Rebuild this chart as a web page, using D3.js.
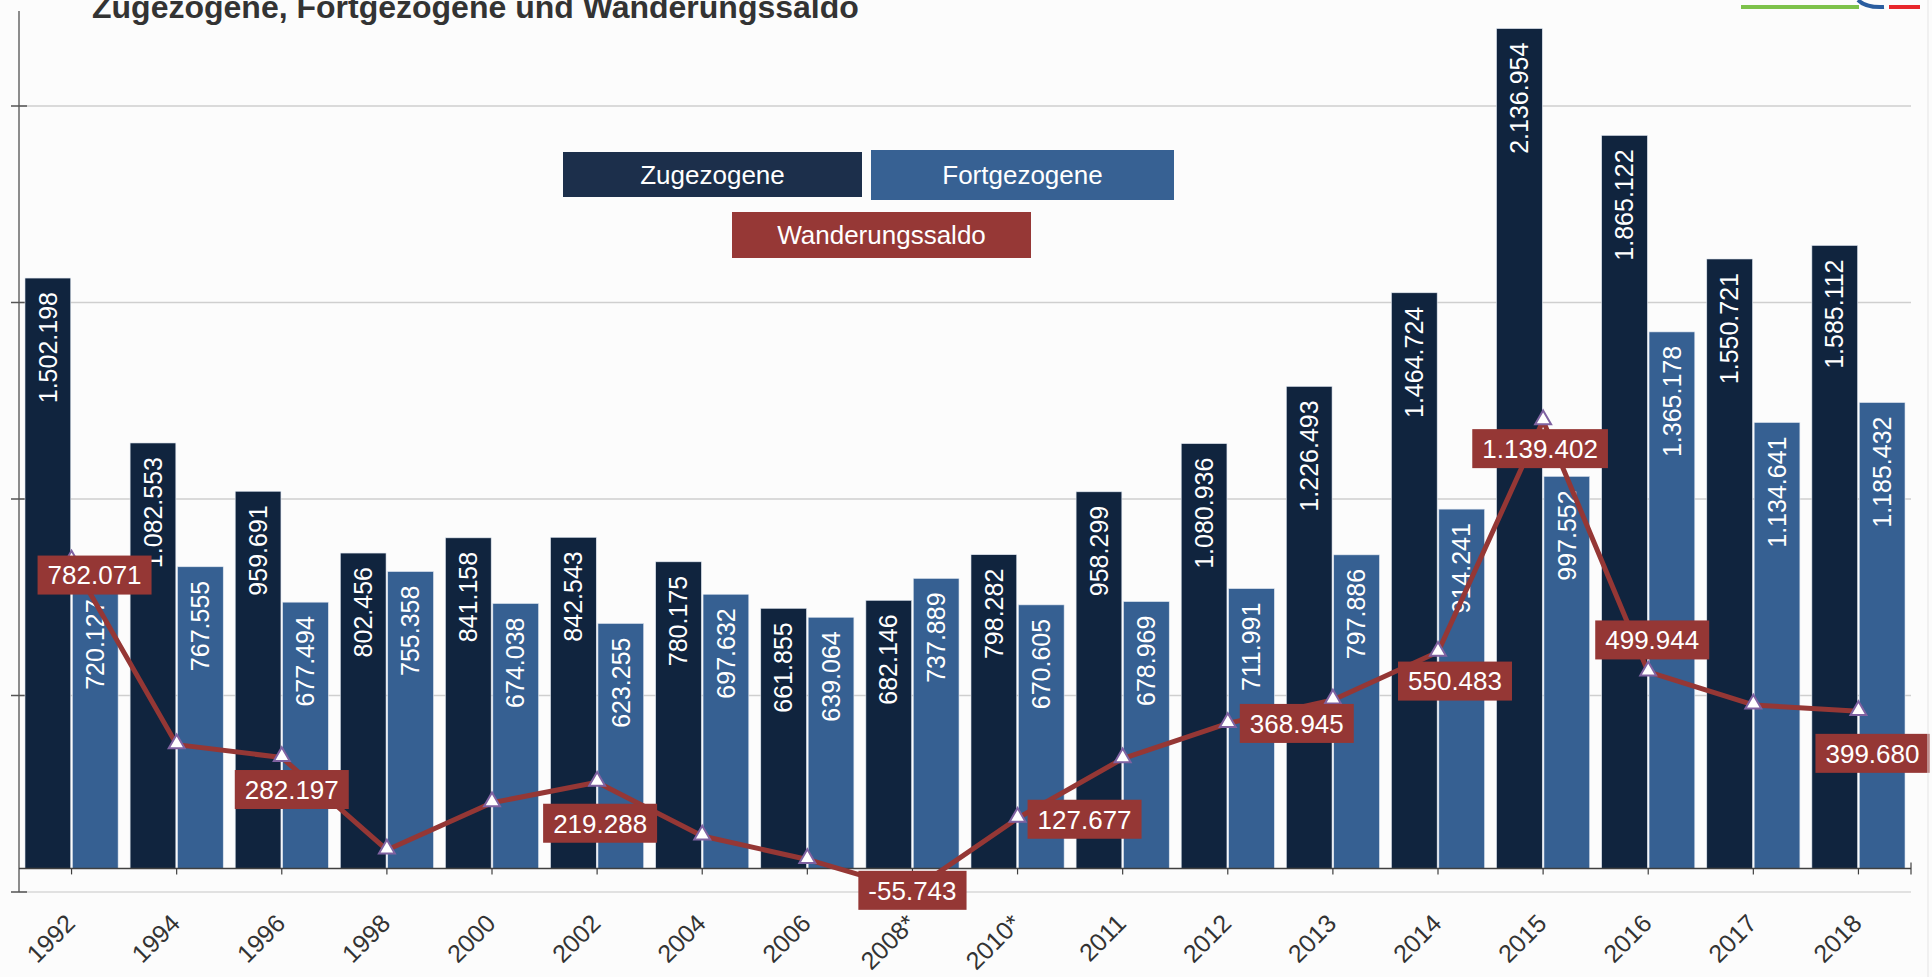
<!DOCTYPE html>
<html>
<head>
<meta charset="utf-8">
<script src="https://cdn.jsdelivr.net/npm/d3@7"></script>
<style>
  body { margin: 0; background: #fcfcfc; }
  svg { display: block; font-family: "Liberation Sans", Arial, sans-serif; }
</style>
</head>
<body>
<div id="chart"></div>
<script>
const years = ["1992", "1994", "1996", "1998", "2000", "2002", "2004", "2006", "2008*", "2010*",
               "2011", "2012", "2013", "2014", "2015", "2016", "2017", "2018"];
const zugezogene = [1502198, 1082553, 959691, 802456, 841158, 842543, 780175, 661855, 682146, 798282,
                    958299, 1080936, 1226493, 1464724, 2136954, 1865122, 1550721, 1585112];
const fortgezogene = [720127, 767555, 677494, 755358, 674038, 623255, 697632, 639064, 737889, 670605,
                      678969, 711991, 797886, 914241, 997552, 1365178, 1134641, 1185432];
const saldo = [782071, 314998, 282197, 47098, 167120, 219288, 82543, 22791, -55743, 127677,
               279330, 368945, 428607, 550483, 1139402, 499944, 416080, 399680];
// which saldo points carry a label
const saldoLabelled = ["1992", "1996", "2002", "2008*", "2010*", "2012", "2014", "2015", "2016", "2018"];
const gridTicks = [-60000, 440000, 940000, 1440000, 1940000];

// label placement (px offset of the label box from its point)
const labelOffset = {
  "1992": [23, 14], "1996": [10, 32], "2002": [3, 41], "2008*": [0, 0], "2010*": [67, 1],
  "2012": [69, 0], "2014": [17, 29], "2015": [-3, 28], "2016": [4, -32], "2018": [14, 42]
};

const W = 1932, H = 977;
const fmt = v => d3.format(",")(v).replace(/,/g, ".").replace("\u2212", "-");

const svg = d3.select("#chart").append("svg").attr("width", W).attr("height", H);

const x = d3.scaleBand().domain(years).range([19, 1911]).paddingInner(0.114).paddingOuter(0.057);
const xs = d3.scaleBand().domain(["zu", "fort"]).range([0, x.bandwidth()]).paddingInner(0.035);
const y = d3.scaleLinear().domain([-60000, 1940000]).range([892, 106]);
const cx = d => x(d) + x.bandwidth() / 2;

// gridlines
svg.append("g").selectAll("line").data(gridTicks).enter().append("line")
  .attr("x1", 19).attr("x2", 1911)
  .attr("y1", d => y(d)).attr("y2", d => y(d))
  .attr("stroke", (d, i) => i === 0 ? "#d9d9d9" : "#cfcfcf").attr("stroke-width", 1.5);

// left axis
svg.append("line").attr("x1", 19).attr("x2", 19).attr("y1", 11).attr("y2", y(-60000))
  .attr("stroke", "#8c8c8c").attr("stroke-width", 2);
svg.append("g").selectAll("line").data(gridTicks).enter().append("line")
  .attr("x1", 11).attr("x2", 27).attr("y1", d => y(d)).attr("y2", d => y(d))
  .attr("stroke", "#555").attr("stroke-width", 1.5);

// bars
const rows = years.map((yr, i) => ({yr, zu: zugezogene[i], fort: fortgezogene[i], saldo: saldo[i]}));
const colors = {zu: "#10243e", fort: "#366092"};
const bars = [];
rows.forEach(r => { bars.push({yr: r.yr, k: "zu", v: r.zu}); bars.push({yr: r.yr, k: "fort", v: r.fort}); });

svg.append("g").selectAll("rect").data(bars).enter().append("rect")
  .attr("x", d => x(d.yr) + xs(d.k))
  .attr("y", d => y(d.v))
  .attr("width", xs.bandwidth())
  .attr("height", d => y(0) - y(d.v))
  .attr("fill", d => colors[d.k])
  .attr("stroke", "#dfe6f0").attr("stroke-width", 0.6);

svg.append("g").selectAll("text").data(bars).enter().append("text")
  .attr("transform", d => `translate(${x(d.yr) + xs(d.k) + xs.bandwidth() / 2},${y(d.v) + 14}) rotate(-90)`)
  .attr("text-anchor", "end").attr("dy", "0.35em")
  .attr("fill", "#fff").style("font-size", "25px")
  .text(d => fmt(d.v));

// x axis
svg.append("line").attr("x1", 19).attr("x2", 1911).attr("y1", y(0)).attr("y2", y(0))
  .attr("stroke", "#404040").attr("stroke-width", 1.5);
svg.append("g").selectAll("line").data(years).enter().append("line")
  .attr("x1", d => cx(d)).attr("x2", d => cx(d)).attr("y1", y(0)).attr("y2", y(0) + 6)
  .attr("stroke", "#404040").attr("stroke-width", 1.2);
svg.append("line").attr("x1", 1911).attr("x2", 1911).attr("y1", y(0) - 6).attr("y2", y(0) + 6)
  .attr("stroke", "#404040").attr("stroke-width", 1.2);

svg.append("g").selectAll("text").data(years).enter().append("text")
  .attr("transform", d => `translate(${cx(d) + 5},925) rotate(-45)`)
  .attr("text-anchor", "end").attr("fill", "#333").style("font-size", "25px")
  .text(d => d);

// saldo line
const line = d3.line().x(d => cx(d.yr)).y(d => y(d.saldo));
svg.append("path").datum(rows).attr("d", line)
  .attr("fill", "none").attr("stroke", "#953735").attr("stroke-width", 5).attr("stroke-linejoin", "round");

const tri = d3.symbol().type(d3.symbolTriangle).size(110);
svg.append("g").selectAll("path").data(rows).enter().append("path")
  .attr("d", tri)
  .attr("transform", d => `translate(${cx(d.yr)},${y(d.saldo) - 1})`)
  .attr("fill", "#fff").attr("stroke", "#7f62a1").attr("stroke-width", 2);

// saldo labels
const lab = svg.append("g").selectAll("g").data(rows.filter(r => saldoLabelled.includes(r.yr))).enter().append("g")
  .attr("transform", d => `translate(${cx(d.yr) + labelOffset[d.yr][0]},${y(d.saldo) + labelOffset[d.yr][1]})`);
lab.append("text").attr("text-anchor", "middle").attr("dy", "0.36em")
  .attr("fill", "#fff").style("font-size", "26px").text(d => fmt(d.saldo));
lab.each(function () {
  const g = d3.select(this);
  const bb = g.select("text").node().getBBox();
  g.insert("rect", "text").attr("x", bb.x - 10).attr("y", -19.5)
    .attr("width", bb.width + 20).attr("height", 39).attr("fill", "#953735");
});

// legend
const legend = [
  {name: "Zugezogene", x: 563, y: 152, w: 299, h: 45, fill: "#1c2f4b"},
  {name: "Fortgezogene", x: 871, y: 150, w: 303, h: 50, fill: "#376193"},
  {name: "Wanderungssaldo", x: 732, y: 212, w: 299, h: 46, fill: "#963836"}
];
const lg = svg.append("g").selectAll("g").data(legend).enter().append("g");
lg.append("rect").attr("x", d => d.x).attr("y", d => d.y).attr("width", d => d.w).attr("height", d => d.h)
  .attr("fill", d => d.fill);
lg.append("text")
  .attr("x", d => d.x + d.w / 2).attr("y", d => d.y + d.h / 2)
  .attr("text-anchor", "middle").attr("dy", "0.36em")
  .attr("fill", "#fff").style("font-size", "26px").text(d => d.name);

// title (cut at top, as in the source picture)
svg.append("text").attr("x", 92).attr("y", 18)
  .attr("fill", "#333").style("font-size", "32px").style("font-weight", "bold")
  .text("Zugezogene, Fortgezogene und Wanderungssaldo");

// cropped logo strip at top right
svg.append("line").attr("x1", 1741).attr("x2", 1859).attr("y1", 7).attr("y2", 7)
  .attr("stroke", "#7dc24b").attr("stroke-width", 4);
svg.append("path").attr("d", "M1858,0 Q1866,8 1884,7")
  .attr("fill", "none").attr("stroke", "#2a5d9f").attr("stroke-width", 4);
svg.append("line").attr("x1", 1889).attr("x2", 1920).attr("y1", 7).attr("y2", 7)
  .attr("stroke", "#e8262b").attr("stroke-width", 4);

// right border
svg.append("line").attr("x1", 1928).attr("x2", 1928).attr("y1", 0).attr("y2", H)
  .attr("stroke", "#e4e4e4").attr("stroke-width", 1);
</script>
</body>
</html>
